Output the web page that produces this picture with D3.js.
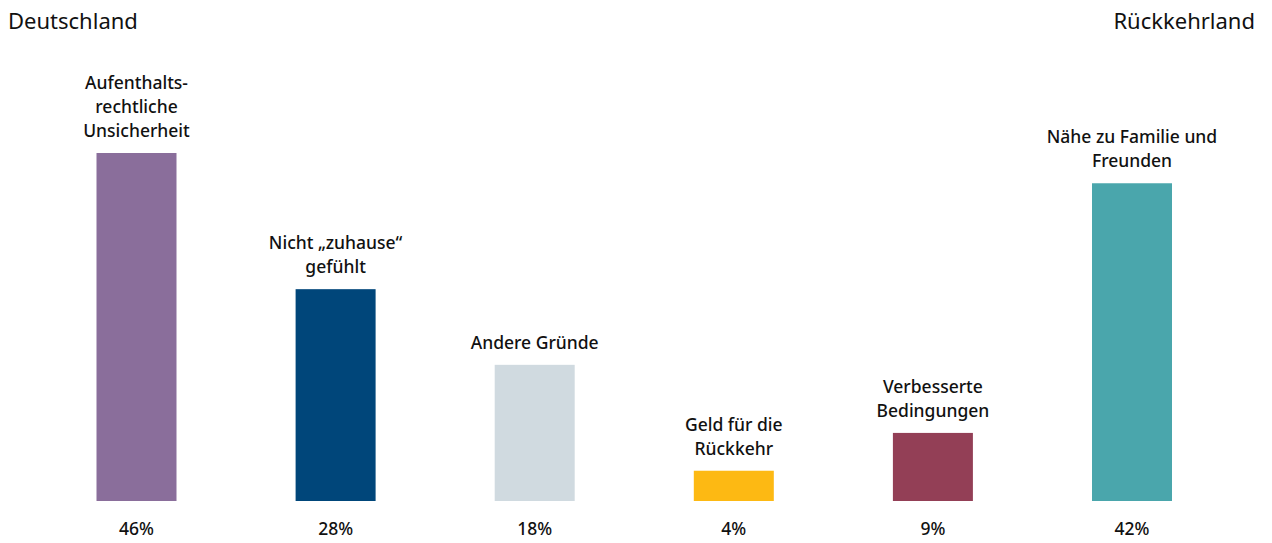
<!DOCTYPE html>
<html>
<head>
<meta charset="utf-8">
<script src="https://cdn.jsdelivr.net/npm/d3@7"></script>
<style>
  body { margin: 0; background: #fff; }
  svg { display: block; font-family: "Noto Sans", "Open Sans", sans-serif; }
</style>
</head>
<body>
<svg id="chart" width="1272" height="543"></svg>
<script>
`use strict`;

const categories = [`Aufenthalts-|rechtliche|Unsicherheit`, `Nicht „zuhause“|gefühlt`, `Andere Gründe`, `Geld für die|Rückkehr`, `Verbesserte|Bedingungen`, `Nähe zu Familie und|Freunden`];
const values = [46, 28, 18, 4, 9, 42];
const colors = [`#8a6e9b`, `#00467a`, `#d0dae0`, `#fdb913`, `#933f56`, `#4aa6ac`];
const sideLabels = [`Deutschland`, `Rückkehrland`];

(function () {

  const svg = d3.select(`#chart`);

  const x = d3.scalePoint()
    .domain(d3.range(categories.length))
    .range([136.5, 1132]);

  const y = d3.scaleLinear()
    .domain([0, 46])
    .range([501, 153]);

  const barW = 80;

  svg.selectAll(`rect.bar`).data(values)
    .enter()
    .append(`rect`)
    .attr(`class`, `bar`)
    .attr(`x`, (d, i) => x(i) - barW / 2)
    .attr(`y`, d => y(d))
    .attr(`width`, barW)
    .attr(`height`, d => y(0) - y(d))
    .attr(`fill`, (d, i) => colors[i]);

  // category labels above bars
  svg.selectAll(`text.cat`).data(categories)
    .enter()
    .append(`text`)
    .attr(`class`, `cat`)
    .attr(`text-anchor`, `middle`)
    .style(`font-size`, `17.5px`)
    .style(`font-weight`, 500)
    .style(`fill`, `#111`)
    .each(function (d, i) {
      let lines = d.split(`|`);
      let base = y(values[i]) - 16 - (lines.length - 1) * 24;
      d3.select(this).selectAll(`tspan`).data(lines)
        .enter()
        .append(`tspan`)
        .attr(`x`, x(i))
        .attr(`y`, (l, j) => base + j * 24)
        .text(l => l);
    });

  // percentages below
  svg.selectAll(`text.val`).data(values)
    .enter()
    .append(`text`)
    .attr(`class`, `val`)
    .attr(`x`, (d, i) => x(i))
    .attr(`y`, 535)
    .attr(`text-anchor`, `middle`)
    .style(`font-size`, `17.5px`)
    .style(`font-weight`, 500)
    .style(`fill`, `#111`)
    .text(d => `${d}%`);

  svg.append(`text`)
    .attr(`x`, 8)
    .attr(`y`, 29)
    .style(`font-size`, `22px`)
    .style(`fill`, `#111`)
    .text(sideLabels[0]);

  svg.append(`text`)
    .attr(`x`, 1255)
    .attr(`y`, 29)
    .attr(`text-anchor`, `end`)
    .style(`font-size`, `22px`)
    .style(`fill`, `#111`)
    .text(sideLabels[1]);

})();
</script>
</body>
</html>
